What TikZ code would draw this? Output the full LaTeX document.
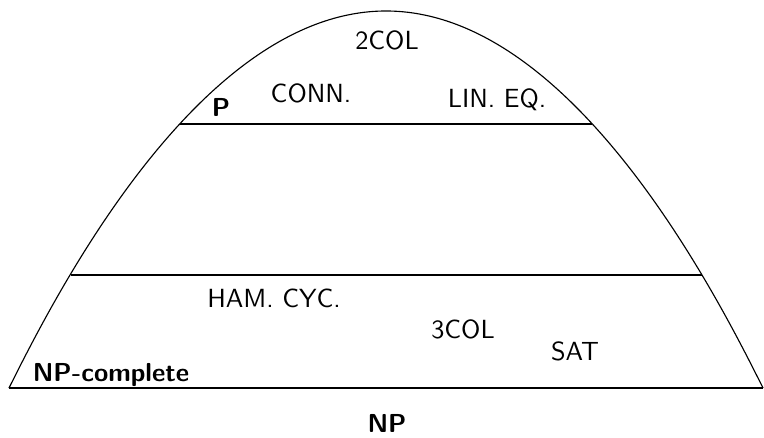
\documentclass[tikz,border=0pt]{standalone}
\renewcommand{\familydefault}{\sfdefault}
\begin{document}
\begin{tikzpicture}[x=0.4pt,y=-0.4pt,
  lbl/.style={font=\fontsize{10.5}{12}\selectfont\sffamily, inner sep=0pt, anchor=base},
  blbl/.style={font=\fontsize{10.4}{12}\selectfont\sffamily\bfseries, inner sep=0pt, anchor=base},
  curve/.style={line width=0.45pt}]
\useasboundingbox (0,0) rectangle (764,438);
\draw[curve] (9,388) parabola bend (386,11) (763,388);
\draw[curve] (9,388) -- (763,388);
\draw[curve] (180,124) -- (592,124);
\draw[curve] (70.5,275) -- (701.5,275);
\node[lbl] (twocol) at (387,50) {2COL};
\node[lbl] (conn) at (311,103) {CONN.};
\node[lbl] (lineq) at (497,108) {LIN. EQ.};
\node[blbl] (p) at (221,117) {P};
\node[lbl] (ham) at (274,307) {HAM. CYC.};
\node[lbl] (threecol) at (463,338) {3COL};
\node[lbl] (sat) at (575,360) {SAT};
\node[blbl] (npc) at (111,381) {NP-complete};
\node[blbl] (np) at (387,432) {NP};
\end{tikzpicture}
\end{document}
